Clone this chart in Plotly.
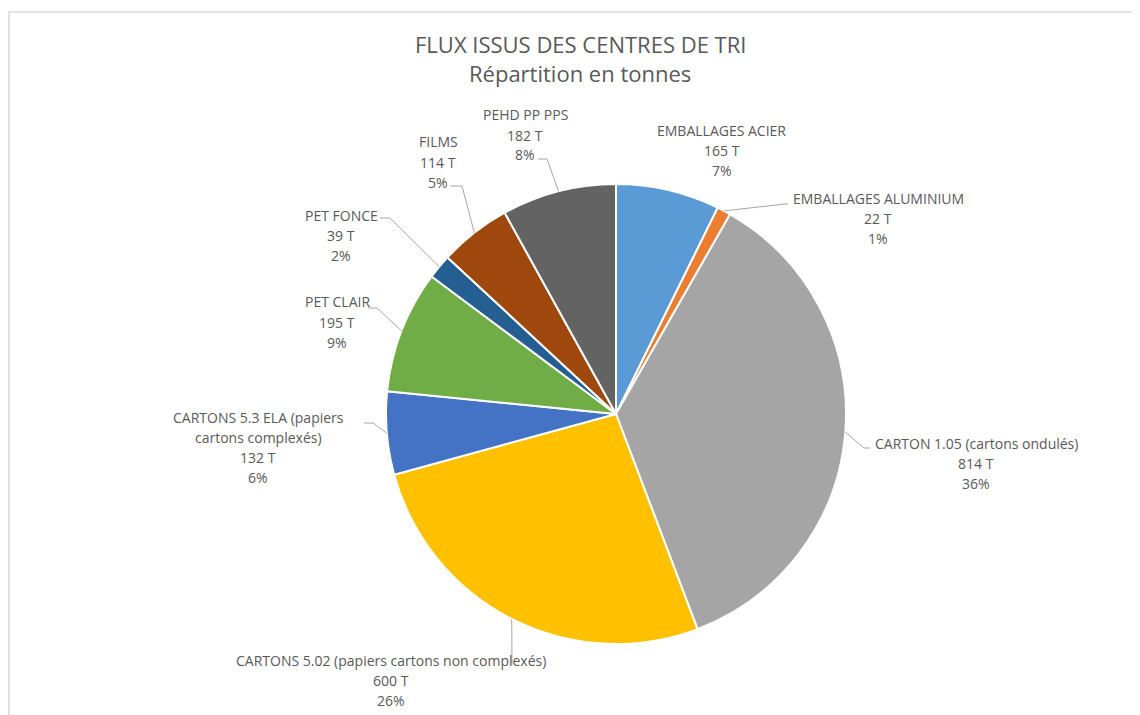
import math
import plotly.graph_objects as go

# ---- data ----
categories = [
    "EMBALLAGES ACIER",
    "EMBALLAGES ALUMINIUM",
    "CARTON 1.05 (cartons ondulés)",
    "CARTONS 5.02 (papiers cartons non complexés)",
    "CARTONS 5.3 ELA (papiers cartons complexés)",
    "PET CLAIR",
    "PET FONCE",
    "FILMS",
    "PEHD PP PPS",
]
tonnes = [165, 22, 814, 600, 132, 195, 39, 114, 182]
percent_labels = ["7%", "1%", "36%", "26%", "6%", "9%", "2%", "5%", "8%"]
# how category names wrap in the labels
name_lines = [
    ["EMBALLAGES ACIER"],
    ["EMBALLAGES ALUMINIUM"],
    ["CARTON 1.05 (cartons ondulés)"],
    ["CARTONS 5.02 (papiers cartons non complexés)"],
    ["CARTONS 5.3 ELA (papiers", "cartons complexés)"],
    ["PET CLAIR"],
    ["PET FONCE"],
    ["FILMS"],
    ["PEHD PP PPS"],
]
title_lines = ["FLUX ISSUS DES CENTRES DE TRI", "Répartition en tonnes"]

# ---- styles / layout ----
colors = ["#5B9BD5", "#ED7D31", "#A5A5A5", "#FFC000", "#4472C4",
          "#70AD47", "#255E91", "#9E480E", "#636363"]
W, H = 1140, 715
OFF = 8  # page body margin
CX, CY, R = 616, 414, 230
TXT = "#595959"
FONT = "'Open Sans', 'Noto Sans', sans-serif"
LINE_H = 20

# label placement in pixels: (text centre x, first line centre y, leader start, leader elbow)
label_pos = [
    (722, 130, None, None),
    (878, 198, (788, 204), (785, 204)),
    (976, 443, (870, 448), (864, 448)),
    (391, 660, (512, 665), (512, 665)),
    (258, 417, (364, 423), (373, 423)),
    (337, 302, (368, 308), (377, 308)),
    (341, 215, (380, 218), (390, 218)),
    (438, 142, (450, 186), (462, 186)),
    (525, 115, (538, 159), (547, 159)),
]

def px(x):
    return (x - OFF) / W

def py(y):
    return 1 - (y - OFF) / H

fig = go.Figure(go.Pie(
    labels=categories,
    values=tonnes,
    sort=False,
    direction="clockwise",
    rotation=0,
    textinfo="none",
    marker=dict(colors=colors, line=dict(color="white", width=2)),
    domain=dict(x=[px(CX - R), px(CX + R)], y=[py(CY + R), py(CY - R)]),
    showlegend=False,
))

annotations = []
shapes = []

total = sum(tonnes)
cum = 0
for i, v in enumerate(tonnes):
    mid = (cum + v / 2) / total * 2 * math.pi
    cum += v
    ex = CX + R * math.sin(mid)
    ey = CY - R * math.cos(mid)
    cx, y0, start, elbow = label_pos[i]
    lines = name_lines[i] + [f"{v} T", percent_labels[i]]
    for k, t in enumerate(lines):
        annotations.append(dict(
            text=t, x=px(cx), y=py(y0 + k * LINE_H), xref="paper", yref="paper",
            xanchor="center", yanchor="middle", showarrow=False,
            font=dict(family=FONT, size=14, color=TXT),
        ))
    if start is not None:
        path = (f"M {px(start[0])},{py(start[1])} L {px(elbow[0])},{py(elbow[1])} "
                f"L {px(ex)},{py(ey)}")
        shapes.append(dict(type="path", path=path, xref="paper", yref="paper",
                           line=dict(color="#A6A6A6", width=1)))

for k, t in enumerate(title_lines):
    annotations.append(dict(
        text=t, x=px(580), y=py(44 + k * 29), xref="paper", yref="paper",
        xanchor="center", yanchor="middle", showarrow=False,
        font=dict(family=FONT, size=22, color=TXT),
    ))

# chart-area border
shapes.append(dict(type="rect", xref="paper", yref="paper",
                   x0=px(9), x1=px(W + 20), y0=py(H + 20), y1=py(12),
                   line=dict(color="#D9D9D9", width=1.5)))

fig.update_layout(
    width=W, height=H,
    margin=dict(l=0, r=0, t=0, b=0),
    paper_bgcolor="white", plot_bgcolor="white",
    annotations=annotations, shapes=shapes,
)

fig.write_html("out.html")
